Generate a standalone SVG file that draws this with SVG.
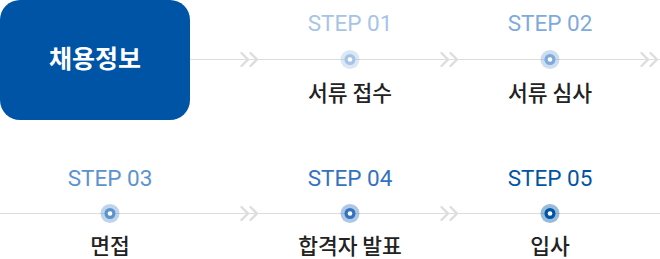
<svg xmlns="http://www.w3.org/2000/svg" width="660" height="259" viewBox="0 0 660 259">
<style>
.step{font-family:Roboto,"Noto Sans CJK KR",sans-serif;font-size:22.5px;text-anchor:middle}
.lbl{font-family:"Noto Sans CJK KR",sans-serif;font-size:21.5px;font-weight:500;fill:#222;text-anchor:middle}
.line{stroke:#dddddd;stroke-width:1.2;fill:none}
.chev{stroke:#dddddd;stroke-width:2.4;fill:none;stroke-linecap:round;stroke-linejoin:round}
.ring{opacity:0.4}
</style>
<defs>
<path id="chev" class="chev" d="M0,-6.5 L6.5,0 L0,6.5 M9,-6.5 L15.5,0 L9,6.5"/>
</defs>
<g id="connectors">
<line class="line" x1="190" y1="59.5" x2="660" y2="59.5"/>
<line class="line" x1="0" y1="213.5" x2="660" y2="213.5"/>
<use href="#chev" x="241.5" y="59.5"/>
<use href="#chev" x="441.5" y="59.5"/>
<use href="#chev" x="641.5" y="59.5"/>
<use href="#chev" x="241.5" y="213.5"/>
<use href="#chev" x="441.5" y="213.5"/>
</g>
<g id="start">
<rect x="0" y="0" width="190" height="120" rx="20" fill="#0054a6"/>
<text x="95" y="68" font-family="'Noto Sans CJK KR',sans-serif" font-size="25" font-weight="700" fill="#fff" text-anchor="middle">채용정보</text>
</g>
<g id="step01">
<text class="step" x="350" y="31" fill="#a6c4e6">STEP 01</text>
<circle cx="350" cy="59.5" r="9.5" fill="#a6c4e6" class="ring"/>
<circle cx="350" cy="59.5" r="5.5" fill="#a6c4e6"/>
<circle cx="350" cy="59.5" r="2.3" fill="#fff"/>
<text class="lbl" x="350" y="101">서류 접수</text>
</g>
<g id="step02">
<text class="step" x="550" y="31" fill="#7eaadc">STEP 02</text>
<circle cx="550" cy="59.5" r="9.5" fill="#7eaadc" class="ring"/>
<circle cx="550" cy="59.5" r="5.5" fill="#7eaadc"/>
<circle cx="550" cy="59.5" r="2.3" fill="#fff"/>
<text class="lbl" x="550" y="101">서류 심사</text>
</g>
<g id="step03">
<text class="step" x="110" y="186" fill="#5b93cf">STEP 03</text>
<circle cx="110" cy="213.5" r="9.5" fill="#5b93cf" class="ring"/>
<circle cx="110" cy="213.5" r="5.5" fill="#5b93cf"/>
<circle cx="110" cy="213.5" r="2.3" fill="#fff"/>
<text class="lbl" x="110" y="254">면접</text>
</g>
<g id="step04">
<text class="step" x="350" y="186" fill="#3372bf">STEP 04</text>
<circle cx="350" cy="213.5" r="9.5" fill="#3372bf" class="ring"/>
<circle cx="350" cy="213.5" r="5.5" fill="#3372bf"/>
<circle cx="350" cy="213.5" r="2.3" fill="#fff"/>
<text class="lbl" x="350" y="254">합격자 발표</text>
</g>
<g id="step05">
<text class="step" x="550" y="186" fill="#0054a6">STEP 05</text>
<circle cx="550" cy="213.5" r="9.5" fill="#0054a6" class="ring"/>
<circle cx="550" cy="213.5" r="5.5" fill="#0054a6"/>
<circle cx="550" cy="213.5" r="2.3" fill="#fff"/>
<text class="lbl" x="550" y="254">입사</text>
</g>
</svg>
